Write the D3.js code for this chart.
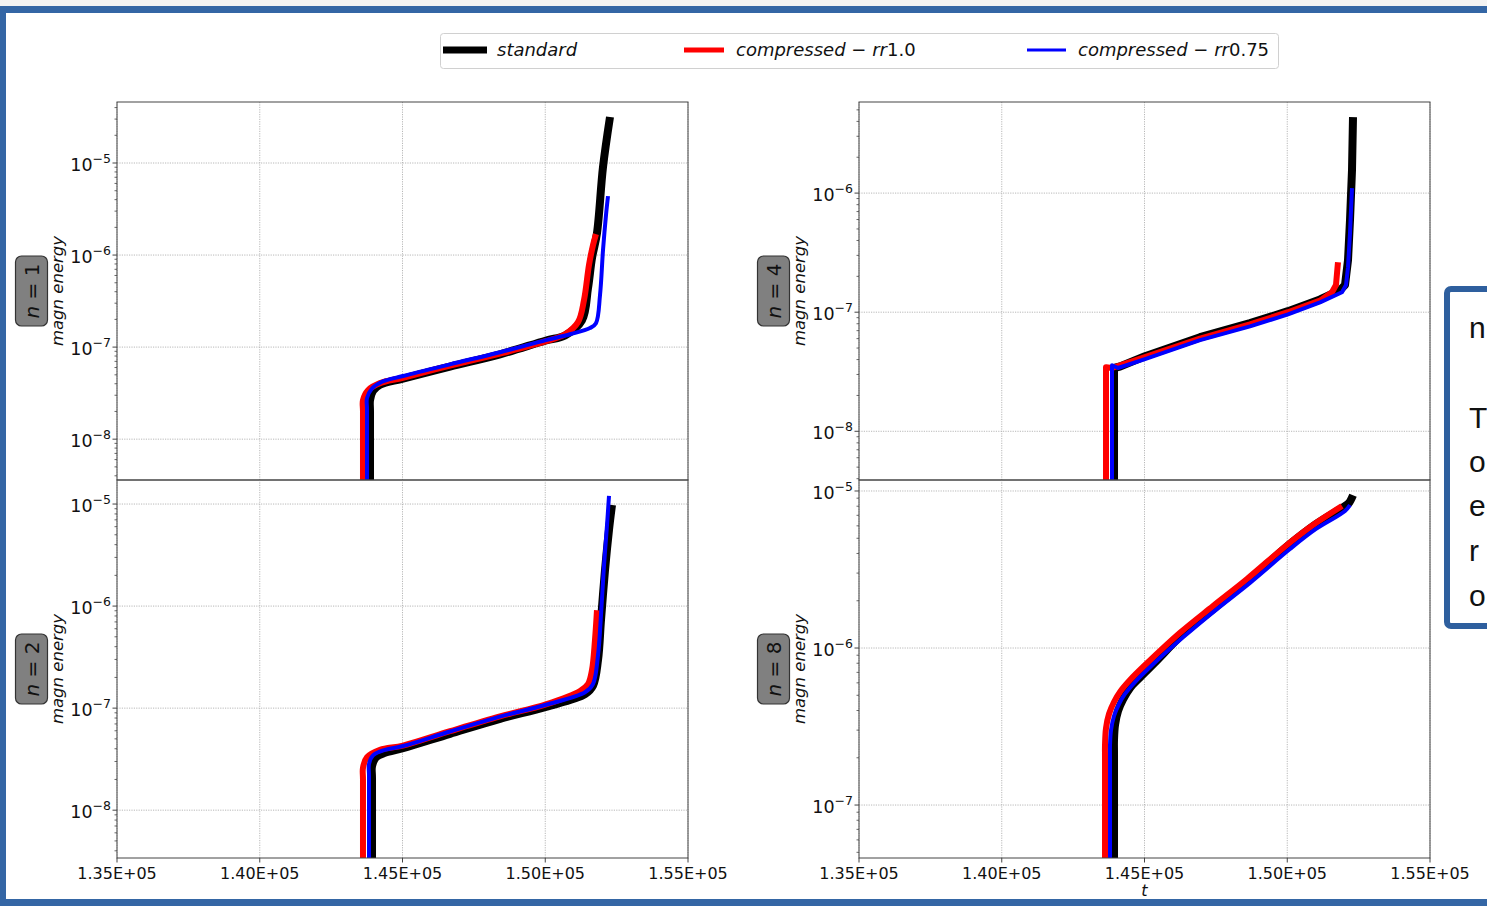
<!DOCTYPE html>
<html>
<head>
<meta charset="utf-8">
<script src="https://cdn.jsdelivr.net/npm/d3@7"></script>
<style>
  body { margin: 0; background: #ffffff; }
  svg { display: block; font-family: "DejaVu Sans", sans-serif; }
</style>
</head>
<body>
<svg id="fig" width="1487" height="906"></svg>
<script>
// ---- time axis ----
const tDomain = [135000, 155000];
const tTicks = [135000, 140000, 145000, 150000, 155000];
const tTickLabels = ["1.35E+05", "1.40E+05", "1.45E+05", "1.50E+05", "1.55E+05"];

// ---- toroidal mode numbers ----
const modes = [1, 2, 4, 8];

// ---- y ranges and decade ticks per mode ----
const yDomainN1 = [3.6e-9, 4.6e-5];
const yDomainN2 = [3.4e-9, 1.72e-5];
const yDomainN4 = [3.9e-9, 5.82e-6];
const yDomainN8 = [4.6e-8, 1.175e-5];
const yTicksN1 = [1e-8, 1e-7, 1e-6, 1e-5];
const yTicksN2 = [1e-8, 1e-7, 1e-6, 1e-5];
const yTicksN4 = [1e-8, 1e-7, 1e-6];
const yTicksN8 = [1e-7, 1e-6, 1e-5];
const yTickExpN1 = ["−8", "−7", "−6", "−5"];
const yTickExpN2 = ["−8", "−7", "−6", "−5"];
const yTickExpN4 = ["−8", "−7", "−6"];
const yTickExpN8 = ["−7", "−6", "−5"];

// ---- series names ----
const seriesNames = ["standard", "compressed − rr1.0", "compressed − rr0.75"];

// ---- magnetic energy time traces [t, E] ----
const standardN1 = [[143862,1e-9],[143862,2.0e-8],[143862,2.65e-8],[143967,3.35e-8],[144212,3.9e-8],[145017,4.55e-8],[146664,6.15e-8],[148415,8.35e-8],[150026,1.18e-7],[150692,1.34e-7],[151287,1.96e-7],[151497,4.38e-7],[151637,9.27e-7],[151812,1.73e-6],[152023,9.05e-6],[152268,3.16e-5]];
const rr100N1 = [[143616,1e-9],[143616,2.0e-8],[143616,2.65e-8],[143792,3.4e-8],[144212,4.06e-8],[145017,4.65e-8],[146664,6.3e-8],[148415,8.5e-8],[150026,1.16e-7],[150692,1.38e-7],[151147,1.87e-7],[151357,3.24e-7],[151532,7.8e-7],[151672,1.28e-6],[151777,1.69e-6]];
const rr075N1 = [[143757,1e-9],[143757,2.1e-8],[143757,2.79e-8],[143932,3.55e-8],[144282,4.2e-8],[145017,4.85e-8],[146664,6.5e-8],[148415,8.8e-8],[150026,1.19e-7],[150867,1.38e-7],[151567,1.61e-7],[151777,1.82e-7],[151918,3.67e-7],[152023,1.13e-6],[152128,2.72e-6],[152198,4.37e-6]];

const standardN2 = [[143932,1e-9],[143932,2.05e-8],[143932,2.7e-8],[144072,3.3e-8],[144387,3.65e-8],[145017,4.05e-8],[146664,5.6e-8],[148415,7.85e-8],[150026,1.03e-7],[151392,1.37e-7],[151672,1.66e-7],[151848,2.96e-7],[151953,7.3e-7],[152093,2.25e-6],[152233,5.6e-6],[152338,9.8e-6]];
const rr100N2 = [[143616,1e-9],[143616,2.0e-8],[143616,2.6e-8],[143757,3.3e-8],[144212,3.9e-8],[145017,4.3e-8],[146664,5.95e-8],[148415,8.3e-8],[150026,1.09e-7],[151217,1.47e-7],[151497,1.72e-7],[151637,2.36e-7],[151742,4.65e-7],[151812,9.1e-7]];
const rr075N2 = [[143827,1e-9],[143827,2.15e-8],[143827,2.83e-8],[143967,3.45e-8],[144387,3.9e-8],[145017,4.25e-8],[146664,5.9e-8],[148415,8.25e-8],[150026,1.08e-7],[151392,1.43e-7],[151672,1.72e-7],[151848,3.3e-7],[151953,8.2e-7],[152058,2.52e-6],[152163,6.2e-6],[152233,1.2e-5]];

const standardN4 = [[143932,1e-9],[143932,3.4e-8],[144142,3.5e-8],[145017,4.27e-8],[146944,6.17e-8],[148695,8.1e-8],[150026,1.02e-7],[151147,1.28e-7],[151847,1.53e-7],[152023,1.69e-7],[152128,2.73e-7],[152198,5.93e-7],[152268,1.56e-6],[152303,4.35e-6]];
const rr100N4 = [[143652,1e-9],[143652,3.45e-8],[143862,3.4e-8],[145017,4.19e-8],[146944,6.0e-8],[148695,7.9e-8],[150026,1.0e-7],[151147,1.25e-7],[151567,1.47e-7],[151707,1.69e-7],[151777,2.63e-7]];
const rr075N4 = [[143862,1e-9],[143862,3.59e-8],[144072,3.4e-8],[145017,4.03e-8],[146944,5.82e-8],[148695,7.6e-8],[150026,9.6e-8],[151147,1.21e-7],[151917,1.47e-7],[152058,1.69e-7],[152128,2.39e-7],[152198,4.61e-7],[152233,7.2e-7],[152268,1.1e-6]];

const standardN8 = [[143932,1e-8],[143932,2.1e-7],[143932,2.6e-7],[143967,3.24e-7],[144072,3.97e-7],[144247,4.7e-7],[144492,5.56e-7],[144843,6.5e-7],[145368,8.1e-7],[146349,1.23e-6],[147504,1.83e-6],[148695,2.75e-6],[150096,4.6e-6],[151007,6.16e-6],[152023,8.02e-6],[152163,8.4e-6],[152303,9.4e-6]];
const rr100N8 = [[143617,1e-8],[143617,1.95e-7],[143617,2.41e-7],[143652,3.09e-7],[143757,3.8e-7],[143932,4.53e-7],[144142,5.25e-7],[144492,6.25e-7],[145088,8.0e-7],[146243,1.25e-6],[147399,1.85e-6],[148590,2.75e-6],[149991,4.53e-6],[150902,6.07e-6],[151918,8.02e-6]];
const rr075N8 = [[143792,1e-8],[143792,1.95e-7],[143792,2.41e-7],[143827,3.0e-7],[143932,3.69e-7],[144107,4.4e-7],[144317,5.1e-7],[144667,6.07e-7],[145263,7.77e-7],[146349,1.17e-6],[147504,1.75e-6],[148695,2.6e-6],[150096,4.27e-6],[151007,5.73e-6],[152023,7.46e-6],[152198,8.15e-6]];

// ---- assemble per-panel inputs ----
const yDomains = [yDomainN1, yDomainN2, yDomainN4, yDomainN8];
const yTicks = [yTicksN1, yTicksN2, yTicksN4, yTicksN8];
const yTickExps = [yTickExpN1, yTickExpN2, yTickExpN4, yTickExpN8];
const traces = [
  [standardN1, rr100N1, rr075N1],
  [standardN2, rr100N2, rr075N2],
  [standardN4, rr100N4, rr075N4],
  [standardN8, rr100N8, rr075N8]
];

// ---- styling ----
const seriesColors = ["#000000", "#ff0000", "#0000ff"];
const seriesWidths = [8, 6, 4];
const frameBlue = "#3466a5";

// panel boxes: left/right columns, top/bottom rows
const boxes = [
  { left: 117, right: 688, top: 102, bottom: 480, xLabels: false, smooth: true },
  { left: 117, right: 688, top: 480, bottom: 858, xLabels: true, smooth: true },
  { left: 859, right: 1430, top: 102, bottom: 480, xLabels: false, smooth: false },
  { left: 859, right: 1430, top: 480, bottom: 858, xLabels: true, tLabel: true, smooth: true }
];

const svg = d3.select("#fig");

// slide frame
svg.append("rect").attr("x", 0).attr("y", 0).attr("width", 1487).attr("height", 6).attr("fill", "#f3f3f3");
svg.append("rect").attr("x", 0).attr("y", 6).attr("width", 1487).attr("height", 7).attr("fill", frameBlue);
svg.append("rect").attr("x", 0).attr("y", 6).attr("width", 6).attr("height", 900).attr("fill", frameBlue);
svg.append("rect").attr("x", 0).attr("y", 899).attr("width", 1487).attr("height", 7).attr("fill", frameBlue);

const defs = svg.append("defs");

modes.forEach((n, i) => {
  const b = boxes[i];
  const x = d3.scaleLinear().domain(tDomain).range([b.left, b.right]);
  const y = d3.scaleLog().domain(yDomains[i]).range([b.bottom, b.top]);
  const g = svg.append("g");

  // grid
  g.selectAll(".gx").data(tTicks).join("line")
    .attr("x1", d => x(d)).attr("x2", d => x(d))
    .attr("y1", b.top).attr("y2", b.bottom)
    .attr("stroke", "#b0b0b0").attr("stroke-width", 0.9).attr("stroke-dasharray", "1.2,1.2");
  g.selectAll(".gy").data(yTicks[i]).join("line")
    .attr("x1", b.left).attr("x2", b.right)
    .attr("y1", d => y(d)).attr("y2", d => y(d))
    .attr("stroke", "#b0b0b0").attr("stroke-width", 0.9).attr("stroke-dasharray", "1.2,1.2");

  // traces
  const clipId = "clip" + n;
  defs.append("clipPath").attr("id", clipId).append("rect")
    .attr("x", b.left).attr("y", b.top).attr("width", b.right - b.left).attr("height", b.bottom - b.top);
  const line = d3.line().x(d => x(d[0])).y(d => y(d[1]))
    .curve(b.smooth ? d3.curveCatmullRom.alpha(0.5) : d3.curveLinear);
  const lg = g.append("g").attr("clip-path", `url(#${clipId})`);
  traces[i].forEach((tr, s) => {
    lg.append("path").attr("d", line(tr))
      .attr("fill", "none").attr("stroke", seriesColors[s])
      .attr("stroke-width", seriesWidths[s])
      .attr("stroke-linejoin", "round").attr("stroke-linecap", "butt");
  });

  // spines
  g.append("rect").attr("x", b.left).attr("y", b.top)
    .attr("width", b.right - b.left).attr("height", b.bottom - b.top)
    .attr("fill", "none").attr("stroke", "#444").attr("stroke-width", 1);

  // y ticks: major and log minor
  const [lo, hi] = yDomains[i];
  const minor = [];
  for (let e = Math.floor(Math.log10(lo)); e <= Math.ceil(Math.log10(hi)); e++) {
    for (let k = 2; k <= 9; k++) {
      const v = k * Math.pow(10, e);
      if (v >= lo && v <= hi) minor.push(v);
    }
  }
  g.selectAll(".ymin").data(minor).join("line")
    .attr("x1", b.left - 2.5).attr("x2", b.left)
    .attr("y1", d => y(d)).attr("y2", d => y(d))
    .attr("stroke", "#444").attr("stroke-width", 0.8);
  g.selectAll(".ymaj").data(yTicks[i]).join("line")
    .attr("x1", b.left - 4.5).attr("x2", b.left)
    .attr("y1", d => y(d)).attr("y2", d => y(d))
    .attr("stroke", "#444").attr("stroke-width", 1);
  const yl = g.selectAll(".ylab").data(yTicks[i]).join("text")
    .attr("x", b.left - 6).attr("y", d => y(d) + 8)
    .attr("text-anchor", "end").attr("font-size", 17.5).attr("fill", "#111");
  yl.append("tspan").text("10");
  yl.append("tspan").attr("dy", -8).attr("font-size", 12.5).text((d, j) => yTickExps[i][j]);

  // x ticks and labels on bottom row
  if (b.xLabels) {
    g.selectAll(".xt").data(tTicks).join("line")
      .attr("x1", d => x(d)).attr("x2", d => x(d))
      .attr("y1", b.bottom).attr("y2", b.bottom + 4.5)
      .attr("stroke", "#444").attr("stroke-width", 1);
    g.selectAll(".xl").data(tTicks).join("text")
      .attr("x", d => x(d)).attr("y", b.bottom + 21)
      .attr("text-anchor", "middle").attr("font-size", 16).attr("fill", "#111")
      .text((d, j) => tTickLabels[j]);
  }
  if (b.tLabel) {
    g.append("text").attr("x", x(145000)).attr("y", b.bottom + 38)
      .attr("text-anchor", "middle").attr("font-size", 16).attr("font-style", "italic")
      .attr("fill", "#111").text("t");
  }

  // y label and mode badge
  const cy = (b.top + b.bottom) / 2;
  g.append("text")
    .attr("transform", `translate(${b.left - 54},${cy}) rotate(-90)`)
    .attr("text-anchor", "middle").attr("font-size", 16.5).attr("font-style", "italic")
    .attr("fill", "#111").text("magn energy");
  const badge = g.append("g").attr("transform", `translate(${b.left - 85.5},${cy}) rotate(-90)`);
  badge.append("rect").attr("x", -35).attr("y", -16).attr("width", 70).attr("height", 32)
    .attr("rx", 6).attr("fill", "#808080").attr("stroke", "#333").attr("stroke-width", 1.2);
  const bt = badge.append("text").attr("x", 0).attr("y", 7.5).attr("text-anchor", "middle")
    .attr("font-size", 20).attr("fill", "#111");
  bt.append("tspan").attr("font-style", "italic").text("n");
  bt.append("tspan").text(" = " + n);
});

// legend
const leg = svg.append("g");
leg.append("rect").attr("x", 440.5).attr("y", 33.5).attr("width", 838).attr("height", 35)
  .attr("rx", 3).attr("fill", "#fff").attr("stroke", "#d0d0d0").attr("stroke-width", 1);
const legHandles = [443, 684, 1027];
const legHandleEnds = [487, 724, 1066];
const legText = [497, 736, 1078];
seriesNames.forEach((name, s) => {
  leg.append("line").attr("x1", legHandles[s]).attr("x2", legHandleEnds[s])
    .attr("y1", 50).attr("y2", 50).attr("stroke", seriesColors[s]).attr("stroke-width", seriesWidths[s] - 1);
  const t = leg.append("text").attr("x", legText[s]).attr("y", 56).attr("font-size", 18).attr("fill", "#111");
  if (s === 0) {
    t.append("tspan").attr("font-style", "italic").text(name);
  } else {
    const parts = name.split(" − ");
    const rr = parts[1];
    t.append("tspan").attr("font-style", "italic").text(parts[0]);
    t.append("tspan").text(" − ");
    t.append("tspan").attr("font-style", "italic").text(rr.slice(0, 2));
    t.append("tspan").text(rr.slice(2));
  }
});

// side note box at the slide edge
const note = svg.append("g");
note.append("rect").attr("x", 1447).attr("y", 289).attr("width", 120).attr("height", 337)
  .attr("rx", 4).attr("fill", "#fff").attr("stroke", "#2e5f9e").attr("stroke-width", 6);
const noteLines = ["n", "", "T", "o", "e", "r", "o"];
const noteBase = [338, 382, 428, 472, 516, 561, 606];
noteLines.forEach((s, k) => {
  if (!s) return;
  note.append("text").attr("x", 1469).attr("y", noteBase[k])
    .attr("font-family", "Liberation Sans, Arial, sans-serif").attr("font-size", 30)
    .attr("fill", "#111").text(s);
});
</script>
</body>
</html>
